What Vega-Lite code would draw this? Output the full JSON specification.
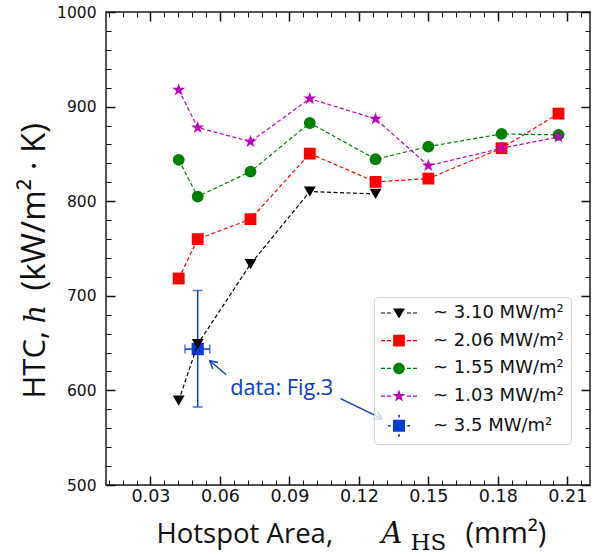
{
  "$schema": "https://vega.github.io/schema/vega-lite/v6.json",
  "width": 484,
  "height": 473,
  "autosize": {"type": "none"},
  "padding": {"left": 106, "top": 12, "right": 11, "bottom": 71},
  "background": "white",
  "config": {
    "view": {"stroke": "#1a1a1a", "strokeWidth": 1.5},
    "axis": {"grid": false, "domain": false, "labelColor": "#111", "tickColor": "#111", "titleColor": "#111", "labelFlush": false, "labelOverlap": false}
  },
  "datasets": {
    "curves": [
      {"series": "~ 3.10 MW/m²", "area": 0.0422, "htc": 589.1},
      {"series": "~ 3.10 MW/m²", "area": 0.0504, "htc": 648.9},
      {"series": "~ 3.10 MW/m²", "area": 0.0732, "htc": 733.5},
      {"series": "~ 3.10 MW/m²", "area": 0.0988, "htc": 810.2},
      {"series": "~ 3.10 MW/m²", "area": 0.1272, "htc": 807.7},
      {"series": "~ 2.06 MW/m²", "area": 0.0422, "htc": 718.3},
      {"series": "~ 2.06 MW/m²", "area": 0.0504, "htc": 759.9},
      {"series": "~ 2.06 MW/m²", "area": 0.0732, "htc": 781.0},
      {"series": "~ 2.06 MW/m²", "area": 0.0988, "htc": 850.3},
      {"series": "~ 2.06 MW/m²", "area": 0.1272, "htc": 820.4},
      {"series": "~ 2.06 MW/m²", "area": 0.1500, "htc": 823.9},
      {"series": "~ 2.06 MW/m²", "area": 0.1816, "htc": 856.0},
      {"series": "~ 2.06 MW/m²", "area": 0.2062, "htc": 892.6},
      {"series": "~ 1.55 MW/m²", "area": 0.0422, "htc": 843.7},
      {"series": "~ 1.55 MW/m²", "area": 0.0504, "htc": 804.9},
      {"series": "~ 1.55 MW/m²", "area": 0.0732, "htc": 831.3},
      {"series": "~ 1.55 MW/m²", "area": 0.0988, "htc": 882.7},
      {"series": "~ 1.55 MW/m²", "area": 0.1272, "htc": 844.4},
      {"series": "~ 1.55 MW/m²", "area": 0.1500, "htc": 857.7},
      {"series": "~ 1.55 MW/m²", "area": 0.1816, "htc": 871.1},
      {"series": "~ 1.55 MW/m²", "area": 0.2062, "htc": 870.1},
      {"series": "~ 1.03 MW/m²", "area": 0.0422, "htc": 917.6},
      {"series": "~ 1.03 MW/m²", "area": 0.0504, "htc": 877.8},
      {"series": "~ 1.03 MW/m²", "area": 0.0732, "htc": 863.0},
      {"series": "~ 1.03 MW/m²", "area": 0.0988, "htc": 908.4},
      {"series": "~ 1.03 MW/m²", "area": 0.1272, "htc": 887.0},
      {"series": "~ 1.03 MW/m²", "area": 0.1500, "htc": 837.6},
      {"series": "~ 1.03 MW/m²", "area": 0.1816, "htc": 856.0},
      {"series": "~ 1.03 MW/m²", "area": 0.2062, "htc": 867.9}
    ],
    "fig3": [
      {"series": "~ 3.5 MW/m²", "area": 0.0504, "htc": 643.7, "areaLo": 0.0449, "areaHi": 0.0556, "htcLo": 582.4, "htcHi": 705.6}
    ],
    "note": [{"area": 0.0867, "htc": 602.8, "label": "data: Fig.3"}],
    "arrow1": [{"area": 0.0627, "htc": 616.5, "area2": 0.0556, "htc2": 631.3}],
    "arrow2": [{"area": 0.1121, "htc": 591.2, "area2": 0.1301, "htc2": 570.0}],
    "legendrows": [
      {"series": "~ 3.10 MW/m²"},
      {"series": "~ 2.06 MW/m²"},
      {"series": "~ 1.55 MW/m²"},
      {"series": "~ 1.03 MW/m²"},
      {"series": "~ 3.5 MW/m²"}
    ]
  },
  "resolve": {
    "scale": {"color": "independent", "shape": "independent"},
    "axis": {"x": "independent", "y": "independent"}
  },
  "layer": [
    {
      "data": {"name": "fig3"},
      "mark": {"type": "rule", "color": "#0a3cd0", "strokeWidth": 1.5},
      "encoding": {
        "x": {"field": "area", "type": "quantitative", "scale": {"domain": [0.0108, 0.2198], "nice": false, "zero": false},
          "axis": {"orient": "top", "values": [0.03, 0.06, 0.09, 0.12, 0.15, 0.18, 0.21], "labels": false, "tickSize": -9, "tickWidth": 1.5,
            "title": "A", "titleX": 275, "titleY": 530, "titleAlign": "left", "titleBaseline": "alphabetic", "titleAngle": 0,
            "titleFont": "DejaVu Serif", "titleFontStyle": "italic", "titleFontWeight": "normal", "titleFontSize": 29}},
        "y": {"field": "htcLo", "type": "quantitative", "scale": {"domain": [500, 1000], "nice": false, "zero": false},
          "axis": {"orient": "right", "values": [500, 600, 700, 800, 900, 1000], "labels": false, "tickSize": -9, "tickWidth": 1.5,
            "title": "h", "titleX": -546, "titleY": 311, "titleAlign": "left", "titleBaseline": "alphabetic", "titleAngle": 270,
            "titleFont": "DejaVu Serif", "titleFontStyle": "italic", "titleFontWeight": "normal", "titleFontSize": 29}},
        "y2": {"field": "htcHi"}
      }
    },
    {
      "data": {"name": "fig3"},
      "mark": {"type": "rule", "color": "#0a3cd0", "strokeWidth": 1.5},
      "encoding": {
        "x": {"field": "areaLo", "type": "quantitative", "scale": {"domain": [0.0108, 0.2198], "nice": false, "zero": false},
          "axis": {"orient": "top", "values": [0.012, 0.018, 0.024, 0.036, 0.042, 0.048, 0.054, 0.066, 0.072, 0.078, 0.084, 0.096, 0.102, 0.108, 0.114, 0.126, 0.132, 0.138, 0.144, 0.156, 0.162, 0.168, 0.174, 0.186, 0.192, 0.198, 0.204, 0.216],
            "labels": false, "tickSize": -5, "tickWidth": 1,
            "title": "HS", "titleX": 304, "titleY": 537, "titleAlign": "left", "titleBaseline": "alphabetic", "titleAngle": 0,
            "titleFont": "DejaVu Serif", "titleFontWeight": "normal", "titleFontSize": 23}},
        "x2": {"field": "areaHi"},
        "y": {"field": "htc", "type": "quantitative", "scale": {"domain": [500, 1000], "nice": false, "zero": false},
          "axis": {"orient": "right", "values": [520, 540, 560, 580, 620, 640, 660, 680, 720, 740, 760, 780, 820, 840, 860, 880, 920, 940, 960, 980],
            "labels": false, "tickSize": -5, "tickWidth": 1, "title": null}}
      }
    },
    {
      "data": {"name": "fig3"},
      "mark": {"type": "tick", "orient": "horizontal", "color": "#0a3cd0", "size": 10, "thickness": 1.5},
      "encoding": {
        "x": {"field": "area", "type": "quantitative", "scale": {"domain": [0.0108, 0.2198], "nice": false, "zero": false}, "axis": null},
        "y": {"field": "htcLo", "type": "quantitative", "scale": {"domain": [500, 1000], "nice": false, "zero": false}, "axis": null}
      }
    },
    {
      "data": {"name": "fig3"},
      "mark": {"type": "tick", "orient": "horizontal", "color": "#0a3cd0", "size": 10, "thickness": 1.5},
      "encoding": {
        "x": {"field": "area", "type": "quantitative", "scale": {"domain": [0.0108, 0.2198], "nice": false, "zero": false}, "axis": null},
        "y": {"field": "htcHi", "type": "quantitative", "scale": {"domain": [500, 1000], "nice": false, "zero": false}, "axis": null}
      }
    },
    {
      "data": {"name": "fig3"},
      "mark": {"type": "tick", "orient": "vertical", "color": "#0a3cd0", "size": 9, "thickness": 1.5},
      "encoding": {
        "x": {"field": "areaLo", "type": "quantitative", "scale": {"domain": [0.0108, 0.2198], "nice": false, "zero": false}, "axis": null},
        "y": {"field": "htc", "type": "quantitative", "scale": {"domain": [500, 1000], "nice": false, "zero": false}, "axis": null}
      }
    },
    {
      "data": {"name": "fig3"},
      "mark": {"type": "tick", "orient": "vertical", "color": "#0a3cd0", "size": 9, "thickness": 1.5},
      "encoding": {
        "x": {"field": "areaHi", "type": "quantitative", "scale": {"domain": [0.0108, 0.2198], "nice": false, "zero": false}, "axis": null},
        "y": {"field": "htc", "type": "quantitative", "scale": {"domain": [500, 1000], "nice": false, "zero": false}, "axis": null}
      }
    },
    {
      "data": {"name": "fig3"},
      "mark": {"type": "point", "shape": "square", "filled": true, "color": "#0a3cd0", "opacity": 1, "size": 150},
      "encoding": {
        "x": {"field": "area", "type": "quantitative", "scale": {"domain": [0.0108, 0.2198], "nice": false, "zero": false}, "axis": null},
        "y": {"field": "htc", "type": "quantitative", "scale": {"domain": [500, 1000], "nice": false, "zero": false}, "axis": null}
      }
    },
    {
      "data": {"name": "curves"},
      "mark": {"type": "line", "strokeDash": [4, 2.5], "strokeWidth": 1.2},
      "encoding": {
        "x": {"field": "area", "type": "quantitative", "scale": {"domain": [0.0108, 0.2198], "nice": false, "zero": false},
          "axis": {"orient": "bottom", "values": [0.03, 0.06, 0.09, 0.12, 0.15, 0.18, 0.21], "format": ".2f", "tickSize": -9, "tickWidth": 1.5,
            "labelFont": "DejaVu Sans", "labelFontSize": 17.5, "labelPadding": 11,
            "title": "Hotspot Area,", "titleX": 50, "titleY": 57, "titleAlign": "left", "titleBaseline": "alphabetic", "titleAngle": 0,
            "titleFont": "Open Sans", "titleFontWeight": "normal", "titleFontSize": 27.5}},
        "y": {"field": "htc", "type": "quantitative", "scale": {"domain": [500, 1000], "nice": false, "zero": false},
          "axis": {"orient": "left", "values": [500, 600, 700, 800, 900, 1000], "format": "d", "tickSize": -9, "tickWidth": 1.5,
            "labelFont": "DejaVu Sans", "labelFontSize": 15.5, "labelPadding": 19,
            "title": "HTC,", "titleX": -62, "titleY": 386, "titleAlign": "left", "titleBaseline": "alphabetic", "titleAngle": 270,
            "titleFont": "Open Sans", "titleFontWeight": "normal", "titleFontSize": 31}},
        "color": {"field": "series", "type": "nominal",
          "scale": {"domain": ["~ 3.10 MW/m²", "~ 2.06 MW/m²", "~ 1.55 MW/m²", "~ 1.03 MW/m²"], "range": ["#000000", "#ff0000", "#008000", "#bf00bf"]},
          "legend": null}
      }
    },
    {
      "data": {"name": "curves"},
      "mark": {"type": "point", "filled": true, "opacity": 1, "size": 140},
      "encoding": {
        "x": {"field": "area", "type": "quantitative", "scale": {"domain": [0.0108, 0.2198], "nice": false, "zero": false},
          "axis": {"orient": "bottom", "values": [0.012, 0.018, 0.024, 0.036, 0.042, 0.048, 0.054, 0.066, 0.072, 0.078, 0.084, 0.096, 0.102, 0.108, 0.114, 0.126, 0.132, 0.138, 0.144, 0.156, 0.162, 0.168, 0.174, 0.186, 0.192, 0.198, 0.204, 0.216],
            "labels": false, "tickSize": -5, "tickWidth": 1,
            "title": "(mm²)", "titleX": 359, "titleY": 57, "titleAlign": "left", "titleBaseline": "alphabetic", "titleAngle": 0,
            "titleFont": "Open Sans", "titleFontWeight": "normal", "titleFontSize": 29}},
        "y": {"field": "htc", "type": "quantitative", "scale": {"domain": [500, 1000], "nice": false, "zero": false},
          "axis": {"orient": "left", "values": [520, 540, 560, 580, 620, 640, 660, 680, 720, 740, 760, 780, 820, 840, 860, 880, 920, 940, 960, 980],
            "labels": false, "tickSize": -5, "tickWidth": 1,
            "title": "(kW/m² · K)", "titleX": -62, "titleY": 278, "titleAlign": "left", "titleBaseline": "alphabetic", "titleAngle": 270,
            "titleFont": "Open Sans", "titleFontWeight": "normal", "titleFontSize": 33}},
        "color": {"field": "series", "type": "nominal",
          "scale": {"domain": ["~ 3.10 MW/m²", "~ 2.06 MW/m²", "~ 1.55 MW/m²", "~ 1.03 MW/m²"], "range": ["#000000", "#ff0000", "#008000", "#bf00bf"]},
          "legend": null},
        "shape": {"field": "series", "type": "nominal",
          "scale": {"domain": ["~ 3.10 MW/m²", "~ 2.06 MW/m²", "~ 1.55 MW/m²", "~ 1.03 MW/m²"],
            "range": ["triangle-down", "square", "circle", "M0,-1.15L0.258,-0.355L1.094,-0.355L0.418,0.136L0.676,0.93L0,0.439L-0.676,0.93L-0.418,0.136L-1.094,-0.355L-0.258,-0.355Z"]},
          "legend": null}
      }
    },
    {
      "data": {"name": "note"},
      "mark": {"type": "text", "color": "#0a3cd0", "font": "Open Sans", "fontSize": 21.7, "align": "center", "baseline": "middle"},
      "encoding": {
        "x": {"field": "area", "type": "quantitative", "scale": {"domain": [0.0108, 0.2198], "nice": false, "zero": false}, "axis": null},
        "y": {"field": "htc", "type": "quantitative", "scale": {"domain": [500, 1000], "nice": false, "zero": false}, "axis": null},
        "text": {"field": "label"}
      }
    },
    {
      "data": {"name": "arrow1"},
      "mark": {"type": "rule", "color": "#0a3cd0", "strokeWidth": 1.4},
      "encoding": {
        "x": {"field": "area", "type": "quantitative", "scale": {"domain": [0.0108, 0.2198], "nice": false, "zero": false}, "axis": null},
        "y": {"field": "htc", "type": "quantitative", "scale": {"domain": [500, 1000], "nice": false, "zero": false}, "axis": null},
        "x2": {"field": "area2"},
        "y2": {"field": "htc2"}
      }
    },
    {
      "data": {"name": "arrow1"},
      "mark": {"type": "point", "shape": "M-1,-0.55L0,0L-1,0.55", "filled": false, "color": "#0a3cd0", "strokeWidth": 1.4, "opacity": 1, "size": 220, "angle": 220.5},
      "encoding": {
        "x": {"field": "area2", "type": "quantitative", "scale": {"domain": [0.0108, 0.2198], "nice": false, "zero": false}, "axis": null},
        "y": {"field": "htc2", "type": "quantitative", "scale": {"domain": [500, 1000], "nice": false, "zero": false}, "axis": null}
      }
    },
    {
      "data": {"name": "arrow2"},
      "mark": {"type": "rule", "color": "#0a3cd0", "strokeWidth": 1.4},
      "encoding": {
        "x": {"field": "area", "type": "quantitative", "scale": {"domain": [0.0108, 0.2198], "nice": false, "zero": false}, "axis": null},
        "y": {"field": "htc", "type": "quantitative", "scale": {"domain": [500, 1000], "nice": false, "zero": false}, "axis": null},
        "x2": {"field": "area2"},
        "y2": {"field": "htc2"}
      }
    },
    {
      "data": {"name": "arrow2"},
      "mark": {"type": "point", "shape": "M-1,-0.55L0,0L-1,0.55", "filled": false, "color": "#0a3cd0", "strokeWidth": 1.4, "opacity": 1, "size": 220, "angle": 26.7},
      "encoding": {
        "x": {"field": "area2", "type": "quantitative", "scale": {"domain": [0.0108, 0.2198], "nice": false, "zero": false}, "axis": null},
        "y": {"field": "htc2", "type": "quantitative", "scale": {"domain": [500, 1000], "nice": false, "zero": false}, "axis": null}
      }
    },
    {
      "data": {"name": "legendrows"},
      "mark": {"type": "point", "filled": true, "opacity": 0, "size": 324},
      "encoding": {
        "color": {"field": "series", "type": "nominal",
          "scale": {"domain": ["~ 3.10 MW/m²", "~ 2.06 MW/m²", "~ 1.55 MW/m²", "~ 1.03 MW/m²", "~ 3.5 MW/m²"], "range": ["#000000", "#ff0000", "#008000", "#bf00bf", "#0a3cd0"]},
          "legend": {"title": null, "orient": "none", "legendX": 268, "legendY": 285, "padding": 7, "rowPadding": 9.7,
            "symbolSize": 324, "symbolStrokeWidth": 0, "symbolOpacity": 1, "symbolOffset": 9, "labelOffset": 25,
            "labelFont": "DejaVu Sans", "labelFontSize": 18, "labelColor": "#111", "labelLimit": 300,
            "strokeColor": "#d4d4d4", "cornerRadius": 4, "fillColor": "rgba(255,255,255,0.8)"}},
        "shape": {"field": "series", "type": "nominal",
          "scale": {"domain": ["~ 3.10 MW/m²", "~ 2.06 MW/m²", "~ 1.55 MW/m²", "~ 1.03 MW/m²", "~ 3.5 MW/m²"],
            "range": [
              "M-2,-0.067H-1.556V0.067H-2Z M-1.333,-0.067H-0.889V0.067H-1.333Z M0.889,-0.067H1.333V0.067H0.889Z M1.556,-0.067H2V0.067H1.556Z M-0.667,-0.5L0.667,-0.5L0,0.61Z",
              "M-2,-0.067H-1.556V0.067H-2Z M-1.333,-0.067H-0.889V0.067H-1.333Z M0.889,-0.067H1.333V0.067H0.889Z M1.556,-0.067H2V0.067H1.556Z M-0.65,-0.65H0.65V0.65H-0.65Z",
              "M-2,-0.067H-1.556V0.067H-2Z M-1.333,-0.067H-0.889V0.067H-1.333Z M0.889,-0.067H1.333V0.067H0.889Z M1.556,-0.067H2V0.067H1.556Z M-0.64,0A0.64,0.64,0,1,0,0.64,0A0.64,0.64,0,1,0,-0.64,0Z",
              "M-2,-0.067H-1.556V0.067H-2Z M-1.333,-0.067H-0.889V0.067H-1.333Z M0.889,-0.067H1.333V0.067H0.889Z M1.556,-0.067H2V0.067H1.556Z M0,-0.75L0.168,-0.232L0.713,-0.232L0.272,0.089L0.441,0.607L0,0.286L-0.441,0.607L-0.272,0.089L-0.713,-0.232L-0.168,-0.232Z",
              "M-0.67,-0.67H0.67V0.67H-0.67Z M-1.22,-0.09H-0.92V0.09H-1.22Z M0.92,-0.09H1.22V0.09H0.92Z M-0.09,-1.22H0.09V-0.92H-0.09Z M-0.09,0.92H0.09V1.22H-0.09Z"
            ]},
          "legend": {"title": null, "orient": "none", "legendX": 268, "legendY": 285, "padding": 7, "rowPadding": 9.7,
            "symbolSize": 324, "symbolStrokeWidth": 0, "symbolOpacity": 1, "symbolOffset": 9, "labelOffset": 25,
            "labelFont": "DejaVu Sans", "labelFontSize": 18, "labelColor": "#111", "labelLimit": 300,
            "strokeColor": "#d4d4d4", "cornerRadius": 4, "fillColor": "rgba(255,255,255,0.8)"}}
      }
    }
  ]
}
